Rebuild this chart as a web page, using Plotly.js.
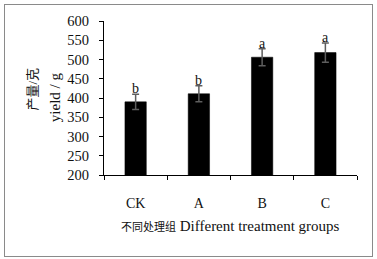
<!DOCTYPE html>
<html>
<head>
<meta charset="utf-8">
<script src="https://cdn.plot.ly/plotly-3.0.1.min.js"></script>
<style>
  html, body { margin: 0; padding: 0; background: #fff; }
  #wrap { position: relative; width: 377px; height: 259px; }
  #chart { position: absolute; left: 0; top: 0; width: 377px; height: 259px; }
  #frame { position: absolute; left: 4px; top: 4px; width: 367px; height: 251px;
           border: 1px solid #8a8a8a; pointer-events: none; }
</style>
</head>
<body>
<div id="wrap">
  <div id="chart"></div>
  <div id="frame"></div>
</div>
<script>
// Data
const groups = ["CK", "A", "B", "C"];
const yieldMean = [390, 411, 506, 518];
const yieldErr = [20, 21, 22, 25];
const sigLetters = ["b", "b", "a", "a"];
const yTickVals = [200, 250, 300, 350, 400, 450, 500, 550, 600];

const serif = "'Liberation Serif', 'Times New Roman', 'Noto Sans CJK SC', serif";

const trace = {
  type: "bar",
  x: groups,
  y: yieldMean,
  marker: { color: "#000000", line: { color: "#000000", width: 0.5 } },
  error_y: { type: "data", array: yieldErr, visible: true, color: "#5e5e5e", thickness: 1.5, width: 3.5 },
  hoverinfo: "none"
};

const letterAnn = groups.map((g, i) => ({
  x: g, y: yieldMean[i] + yieldErr[i], xref: "x", yref: "y",
  text: sigLetters[i], showarrow: false,
  xanchor: "center", yanchor: "bottom", yshift: -4,
  font: { family: serif, size: 14, color: "#111" }
}));

const layout = {
  width: 377, height: 259,
  margin: { l: 103.5, r: 20.3, t: 20.5, b: 83.7 },
  paper_bgcolor: "rgba(0,0,0,0)",
  plot_bgcolor: "rgba(0,0,0,0)",
  showlegend: false,
  bargap: 0.662,
  font: { family: serif, size: 14, color: "#111" },
  xaxis: {
    type: "category",
    showline: true, linecolor: "#000", linewidth: 1,
    ticks: "outside", ticklen: 4, tickcolor: "#000", tickwidth: 1,
    tickson: "boundaries",
    ticklabelstandoff: 15,
    showgrid: false, zeroline: false,
    tickfont: { family: serif, size: 14, color: "#111" }
  },
  yaxis: {
    range: [200, 600],
    tickvals: yTickVals,
    showline: true, linecolor: "#000", linewidth: 1,
    ticks: "outside", ticklen: 4, tickcolor: "#000", tickwidth: 1,
    ticklabelstandoff: 7,
    showgrid: false, zeroline: false,
    tickfont: { family: serif, size: 14.5, color: "#111" }
  },
  annotations: letterAnn.concat([
    {
      xref: "paper", yref: "paper", x: 0.5, y: -0.332,
      xanchor: "center", yanchor: "middle", showarrow: false,
      text: '<span style="font-size:11px">不同处理组</span> Different treatment groups',
      font: { family: serif, size: 15, color: "#111" }
    },
    {
      xref: "paper", yref: "paper", x: -0.2830, y: 0.5575,
      xanchor: "center", yanchor: "middle", showarrow: false, textangle: -90,
      text: "产量/克",
      font: { family: serif, size: 13, color: "#111" }
    },
    {
      xref: "paper", yref: "paper", x: -0.1935, y: 0.5058,
      xanchor: "center", yanchor: "middle", showarrow: false, textangle: -90,
      text: "yield / g",
      font: { family: serif, size: 15, color: "#111" }
    }
  ])
};

Plotly.newPlot("chart", [trace], layout, { staticPlot: true, displayModeBar: false });
</script>
</body>
</html>
